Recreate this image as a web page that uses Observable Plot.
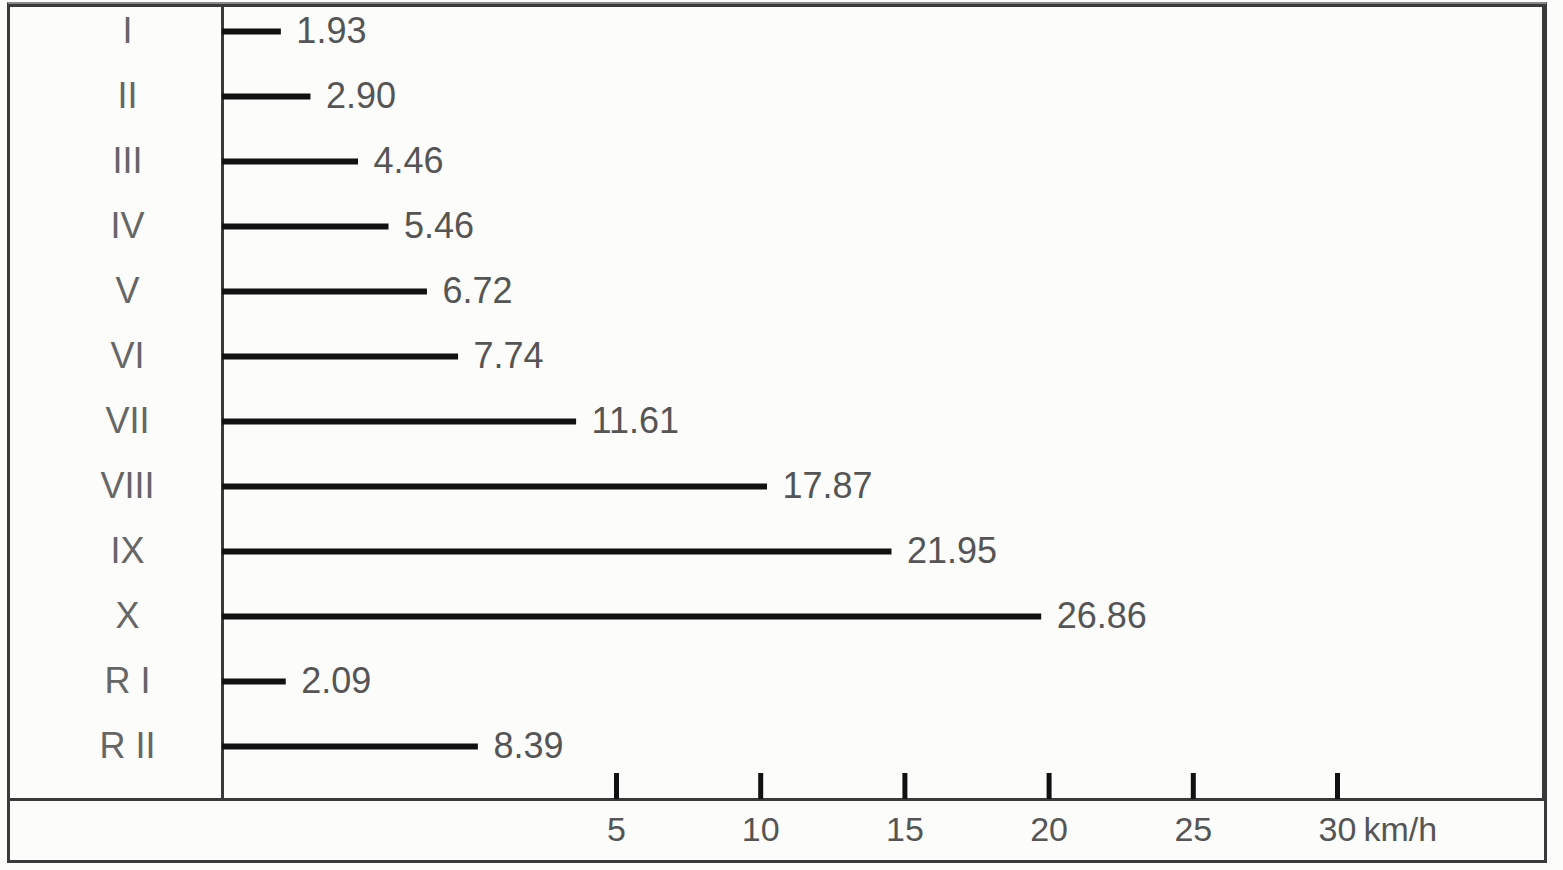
<!DOCTYPE html>
<html>
<head>
<meta charset="utf-8">
<script src="https://cdn.jsdelivr.net/npm/d3@7"></script>
<script src="https://cdn.jsdelivr.net/npm/@observablehq/plot@0.6"></script>
<style>
  html, body { margin: 0; padding: 0; background: #fcfcfa; }
  #wrap { position: relative; width: 1563px; height: 870px; overflow: hidden; background: #fcfcfa; }
  #wrap svg { position: absolute; left: 0; top: 0; }
  #box { position: absolute; left: 7px; top: 2px; width: 1534px; height: 853px; border: 3px solid #3a3a3a; border-top: 5px solid #888; box-sizing: content-box; }
</style>
</head>
<body>
<div id="wrap"><div id="box"></div></div>
<script>
const categories = ["I", "II", "III", "IV", "V", "VI", "VII", "VIII", "IX", "X", "R I", "R II"];
const speeds = [1.93, 2.90, 4.46, 5.46, 6.72, 7.74, 11.61, 17.87, 21.95, 26.86, 2.09, 8.39];
const tickValues = [5, 10, 15, 20, 25, 30];
const tickLabels = ["5", "10", "15", "20", "25", "30"];
const unitLabel = "km/h";

const data = categories.map((c, i) => ({cat: c, v: speeds[i]}));
const fmt = d3.format(".2f");
const font = "'Liberation Sans', Arial, sans-serif";

const main = Plot.plot({
  width: 1563,
  height: 870,
  marginLeft: 8,
  marginRight: 20,
  marginTop: 5,
  marginBottom: 71,
  style: {background: "transparent", fontFamily: font},
  x: {domain: [0, 43.28], range: [222, 1542], axis: null},
  y: {type: "point", domain: categories, range: [31, 746], padding: 0, axis: null},
  marks: [
    Plot.frame({stroke: "#3a3a3a", strokeWidth: 3}),
    Plot.ruleX([0], {stroke: "#3a3a3a", strokeWidth: 3}),
    Plot.ruleY(data, {x1: 0, x2: "v", y: "cat", stroke: "#111", strokeWidth: 6}),
    Plot.text(data, {x: "v", y: "cat", text: d => fmt(d.v), dx: 15, textAnchor: "start", fontSize: 36, fill: "#555"}),
    Plot.text(data, {y: "cat", text: "cat", frameAnchor: "left", dx: 119, textAnchor: "middle", fontSize: 36, fill: "#666"})
  ]
});

const axis = Plot.plot({
  width: 1563,
  height: 870,
  marginLeft: 8,
  marginRight: 20,
  marginTop: 773,
  marginBottom: 71,
  style: {background: "transparent", fontFamily: font},
  x: {domain: [5, 30], range: [616, 1337], axis: null},
  marks: [
    Plot.tickX(tickValues, {x: d => d, stroke: "#111", strokeWidth: 5}),
    Plot.text(tickValues, {x: d => d, text: (d, i) => tickLabels[i], frameAnchor: "bottom", lineAnchor: "middle", dy: 31, fontSize: 34, fill: "#555"}),
    Plot.text([30], {x: d => d, text: [unitLabel], frameAnchor: "bottom", lineAnchor: "middle", dy: 31, dx: 26, textAnchor: "start", fontSize: 34, fill: "#555"})
  ]
});

const wrap = document.getElementById("wrap");
wrap.appendChild(main);
wrap.appendChild(axis);
</script>
</body>
</html>
